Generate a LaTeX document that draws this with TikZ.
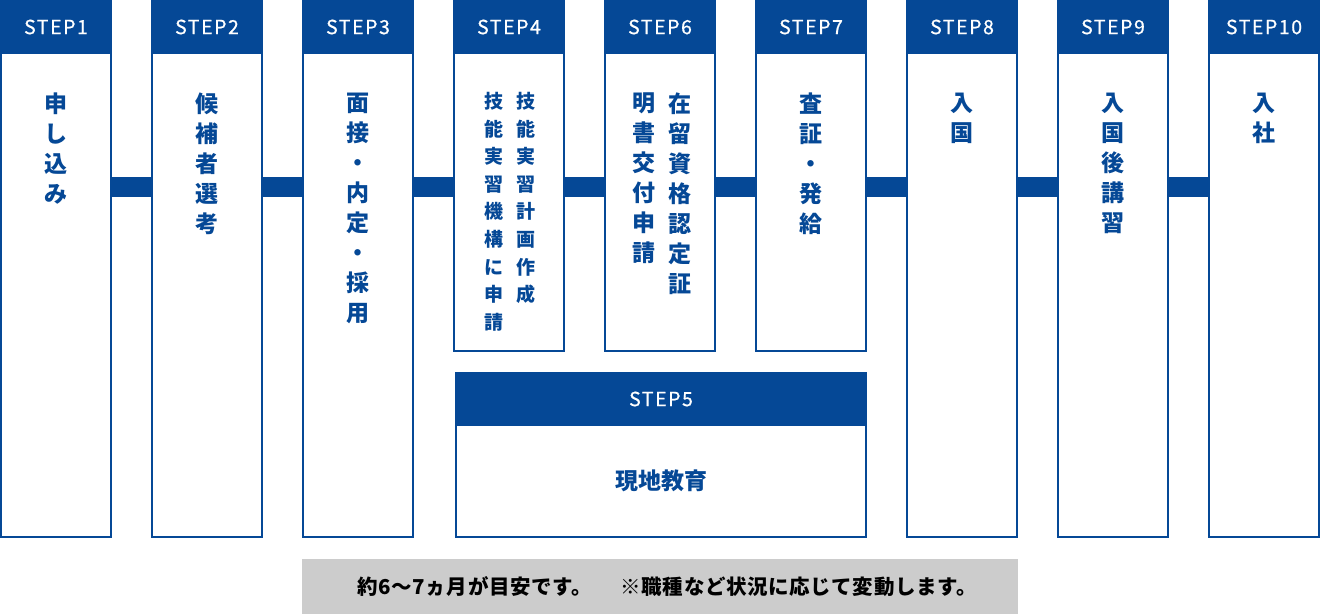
\documentclass[tikz,border=0pt]{standalone}
\usepackage{fontspec}
\newfontfamily\jp{Noto Sans CJK JP}
\newfontfamily\jpstep{Noto Sans CJK JP}[LetterSpace=8, FakeBold=0.7]
\newfontfamily\jpnote{Noto Sans CJK JP}[LetterSpace=3]
\definecolor{navy}{RGB}{5,72,150}
\definecolor{notegray}{RGB}{204,204,204}
\begin{document}
\begin{tikzpicture}[x=1pt,y=-1pt,
  col/.style={draw=navy, line width=2pt, anchor=north west, inner sep=0pt, outer sep=0pt, minimum width=110pt},
  tallcol/.style={col, minimum height=536pt},
  shortcol/.style={col, minimum height=350pt},
  head/.style={fill=navy, anchor=north west, minimum width=112pt, minimum height=54pt, inner sep=0pt, outer sep=0pt, text=white, font=\jpstep\fontsize{19.5}{19.5}\selectfont},
  vtxt/.style={anchor=north, align=center, inner sep=0pt, text=navy, font=\jp\bfseries\fontsize{23}{30}\selectfont},
  vsmall/.style={anchor=north, align=center, inner sep=0pt, text=navy, font=\jp\bfseries\fontsize{19}{27.6}\selectfont},
  conn/.style={draw=navy, line width=20pt},
  notebox/.style={fill=notegray, anchor=north west, minimum width=716pt, minimum height=55pt, inner sep=0pt, text=black, font=\jpnote\bfseries\fontsize{20.5}{20.5}\selectfont}
]
\useasboundingbox (0,0) rectangle (1321,614);
\coordinate (bar) at (0,187);

% columns
\node[tallcol] (c1) at (1,1) {};
\node[tallcol] (c2) at (152,1) {};
\node[tallcol] (c3) at (303,1) {};
\node[shortcol] (c4) at (454,1) {};
\node[shortcol] (c6) at (605,1) {};
\node[shortcol] (c7) at (756,1) {};
\node[tallcol] (c8) at (907,1) {};
\node[tallcol] (c9) at (1058,1) {};
\node[tallcol] (c10) at (1209,1) {};
\node[col, minimum width=410pt, minimum height=164pt] (c5) at (456,373) {};

% headers
\node[head] (h1) at (0,0) {STEP1};
\node[head] (h2) at (151,0) {STEP2};
\node[head] (h3) at (302,0) {STEP3};
\node[head] (h4) at (453,0) {STEP4};
\node[head] (h6) at (604,0) {STEP6};
\node[head] (h7) at (755,0) {STEP7};
\node[head] (h8) at (906,0) {STEP8};
\node[head] (h9) at (1057,0) {STEP9};
\node[head] (h10) at (1208,0) {STEP10};
\node[head, minimum width=412pt] (h5) at (455,372) {STEP5};

% connectors
\draw[conn] (c1.east |- bar) -- (c2.west |- bar);
\draw[conn] (c2.east |- bar) -- (c3.west |- bar);
\draw[conn] (c3.east |- bar) -- (c4.west |- bar);
\draw[conn] (c4.east |- bar) -- (c6.west |- bar);
\draw[conn] (c6.east |- bar) -- (c7.west |- bar);
\draw[conn] (c7.east |- bar) -- (c8.west |- bar);
\draw[conn] (c8.east |- bar) -- (c9.west |- bar);
\draw[conn] (c9.east |- bar) -- (c10.west |- bar);

% texts
\node[vtxt] (t1) at (56,93) {申\\し\\込\\み};
\node[vtxt] (t2) at (207,93) {候\\補\\者\\選\\考};
\node[vtxt] (t3) at (358,93) {面\\接\\・\\内\\定\\・\\採\\用};
\node[vsmall] (t4a) at (526,92) {技\\能\\実\\習\\計\\画\\作\\成};
\node[vsmall] (t4b) at (494,92) {技\\能\\実\\習\\機\\構\\に\\申\\請};
\node[vtxt] (t6a) at (680,93) {在\\留\\資\\格\\認\\定\\証};
\node[vtxt] (t6b) at (644,93) {明\\書\\交\\付\\申\\請};
\node[vtxt] (t7) at (811,93) {査\\証\\・\\発\\給};
\node[vtxt] (t8) at (962,93) {入\\国};
\node[vtxt] (t9) at (1113,93) {入\\国\\後\\講\\習};
\node[vtxt] (t10) at (1264,93) {入\\社};
\node[text=navy, font=\jp\bfseries\fontsize{23}{23}\selectfont] (t5) at (661,481) {現地教育};

% note
\node[notebox] (note) at (302,559) {\hspace*{14pt}約6〜7ヵ月が目安です。\hspace{1.4em}※職種など状況に応じて変動します。};
\end{tikzpicture}
\end{document}
